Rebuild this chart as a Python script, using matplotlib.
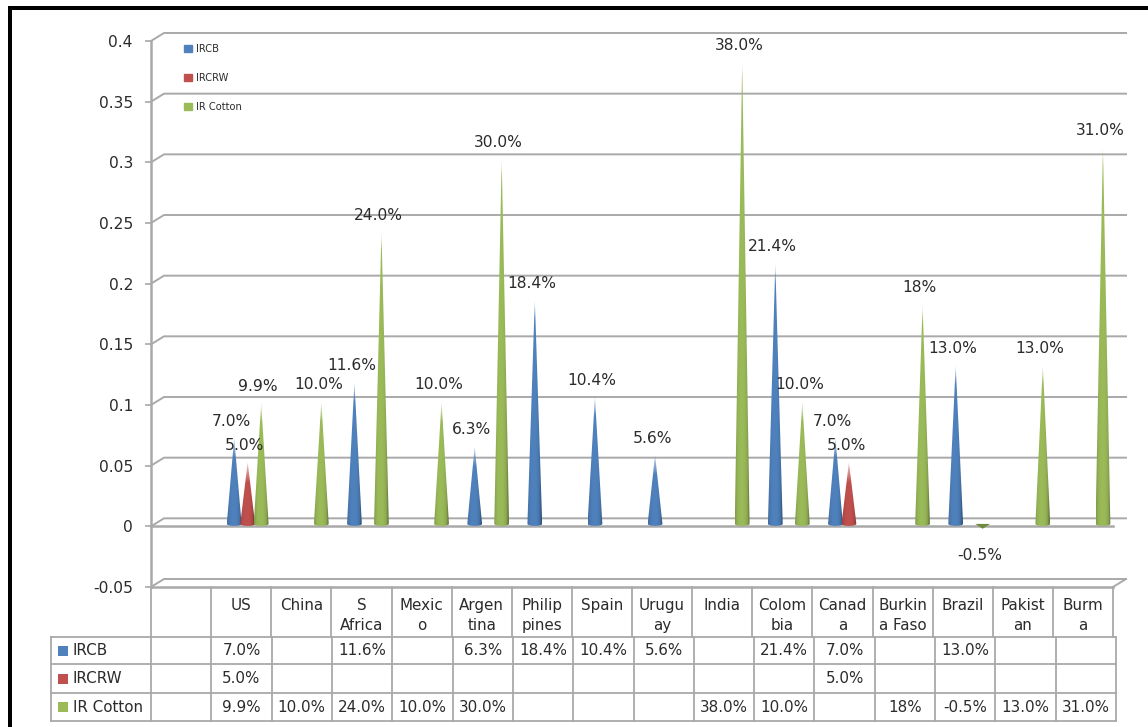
import numpy as np
import matplotlib
matplotlib.use("Agg")
import matplotlib.pyplot as plt
from matplotlib.colors import to_rgb
from matplotlib.patches import Patch, Polygon, Rectangle

W, H = 1148, 727

categories = ["US", "China", "S\nAfrica", "Mexic\no", "Argen\ntina", "Philip\npines", "Spain",
              "Urugu\nay", "India", "Colom\nbia", "Canad\na", "Burkin\na Faso", "Brazil",
              "Pakist\nan", "Burm\na"]
ircb = ["7.0%", "", "11.6%", "", "6.3%", "18.4%", "10.4%", "5.6%", "", "21.4%", "7.0%", "", "13.0%", "", ""]
ircrw = ["5.0%", "", "", "", "", "", "", "", "", "", "5.0%", "", "", "", ""]
ir_cotton = ["9.9%", "10.0%", "24.0%", "10.0%", "30.0%", "", "", "", "38.0%", "10.0%", "", "18%", "-0.5%", "13.0%", "31.0%"]
series_names = ["IRCB", "IRCRW", "IR Cotton"]
series_labels = [ircb, ircrw, ir_cotton]
colors = ["#4F81BD", "#C0504D", "#9BBB59"]
yticks = [-0.05, 0, 0.05, 0.1, 0.15, 0.2, 0.25, 0.3, 0.35, 0.4]
ytick_labels = ["-0.05", "0", "0.05", "0.1", "0.15", "0.2", "0.25", "0.3", "0.35", "0.4"]

GRID = "#a9a9a9"
TEXT = "#2b2b2b"
FS = 11.2
FS_TAB = 10.9

plt.rcParams["font.family"] = "DejaVu Sans"
fig = plt.figure(figsize=(W / 100, H / 100), dpi=100)

# pixel axes for frame and data table
tab = fig.add_axes([0, 0, 1, 1])
tab.set_xlim(0, W)
tab.set_ylim(H, 0)
tab.axis("off")
tab.add_patch(Rectangle((8, 6), W - 8, 4, color="black", lw=0))
tab.add_patch(Rectangle((8, 6), 4, H - 6, color="black", lw=0))

left, right, top, bottom = 151, 1113, 41, 587
ax = fig.add_axes([left / W, 1 - bottom / H, (right - left) / W, (bottom - top) / H])
ax.patch.set_alpha(0)
for s in ax.spines.values():
    s.set_visible(False)

px_x = 16 / (right - left)
px_y = 0.45 / (bottom - top)
dx, dy = 13 * px_x, 8 * px_y

# back wall gridlines with the little slanted end
for y in yticks:
    ax.plot([0, dx, 16 + dx], [y, y + dy, y + dy], color=GRID, lw=1.4, clip_on=False, zorder=1)
for y in [0, -0.05]:
    ax.plot([0, 16], [y, y], color=GRID, lw=1.8, clip_on=False, zorder=1)
ax.plot([16, 16 + dx], [-0.05, -0.05 + dy], color=GRID, lw=1.4, clip_on=False, zorder=1)
ax.plot([0, 0], [-0.05, 0.4], color=GRID, lw=1.8, clip_on=False, zorder=1)


def draw_cone(xc, val, color):
    base = 0.002
    tip = val + 0.003
    hw = 7.4 * px_x
    if val < 0:
        # small inverted cone below the floor
        ax.add_patch(Polygon([(xc - hw, base), (xc + hw, base), (xc, tip)], fc="#6f8a3a", ec="none", zorder=3))
        return
    c = np.array(to_rgb(color))
    xs = np.linspace(-1, 1, 30)
    shade = 1.0 - 0.22 * np.abs(xs + 0.1) ** 2.5
    shade[xs > 0.75] -= 0.08
    n = 300
    img = np.ones((n, 30, 4))
    for k in range(3):
        img[:, :, k] = np.clip(c[k] * shade, 0, 1)
    # row 0 is the tip, only the top few pixels fade out
    height_px = (tip - base) / px_y
    fade_rows = max(2, int(n * min(20 / height_px, 0.35)))
    fade = np.ones(n)
    fade[:fade_rows] = np.linspace(0.25, 1, fade_rows)
    img[:, :, 3] = fade[:, None]
    ext = [xc - hw, xc + hw, base - 2 * px_y, tip]
    im = ax.imshow(img, extent=ext, aspect="auto", origin="upper", zorder=3, interpolation="bilinear")
    a = np.linspace(np.pi, 2 * np.pi, 12)
    pts = [(xc, tip)] + [(xc + hw * np.cos(t), base + 2 * px_y * np.sin(t)) for t in a]
    poly = Polygon(pts, transform=ax.transData, fc="none", ec="none")
    ax.add_patch(poly)
    im.set_clip_path(poly)


col_off = [-13.5 * px_x, 0, 13.5 * px_x]
shift = 6.5 * px_x
for si, labels in enumerate(series_labels):
    for i, lab in enumerate(labels):
        if lab == "":
            continue
        val = float(lab.rstrip("%")) / 100
        xc = i + 1.5 + col_off[si] + shift
        draw_cone(xc, val, colors[si])
        yoff = -23 if val < 0 else 20
        ax.annotate(lab, (xc, val), xytext=(-3, yoff), textcoords="offset pixels", ha="center",
                    va="center", fontsize=FS, color=TEXT, zorder=5, annotation_clip=False)

ax.set_xlim(0, 16)
ax.set_ylim(-0.05, 0.4)
ax.set_xticks([])
ax.set_yticks(yticks)
ax.set_yticklabels(ytick_labels, fontsize=FS, color=TEXT)
ax.tick_params(axis="y", length=4, width=1.2, color=GRID, pad=9)

handles = [Patch(color=c) for c in colors]
ax.legend(handles, series_names, loc="upper left", bbox_to_anchor=(0.026, 1.009), frameon=False,
          fontsize=7.1, labelspacing=1.93, handlelength=0.8, handleheight=0.8, handletextpad=0.4,
          borderpad=0.3, labelcolor=TEXT)

# data table
row_y = [637, 664, 693, 721]
tab_x0 = 51
for j in range(17):
    x = left + j * (right - left) / 16
    tab.plot([x, x], [bottom, row_y[0]], color=GRID, lw=1.3)
    x2 = left + j * (1116 - left) / 16
    tab.plot([x2, x2], [row_y[0], row_y[-1]], color=GRID, lw=1.3)
for y in row_y:
    tab.plot([tab_x0, 1116], [y, y], color=GRID, lw=1.3)
tab.plot([tab_x0, tab_x0], [row_y[0], row_y[-1]], color=GRID, lw=1.3)

for i, name in enumerate(categories):
    x = left + (i + 1.5) * (right - left) / 16
    tab.text(x, 598, name, ha="center", va="top", fontsize=FS_TAB, color=TEXT, linespacing=1.45)

for si, labels in enumerate(series_labels):
    yc = (row_y[si] + row_y[si + 1]) / 2
    tab.add_patch(Rectangle((58, yc - 5), 10, 10, color=colors[si], lw=0))
    tab.text(73, yc, series_names[si], va="center", fontsize=FS_TAB, color=TEXT)
    for i, lab in enumerate(labels):
        x = left + (i + 1.5) * (1116 - left) / 16
        tab.text(x, yc, lab, ha="center", va="center", fontsize=FS_TAB, color=TEXT)

fig.savefig("out.png", dpi=100)
